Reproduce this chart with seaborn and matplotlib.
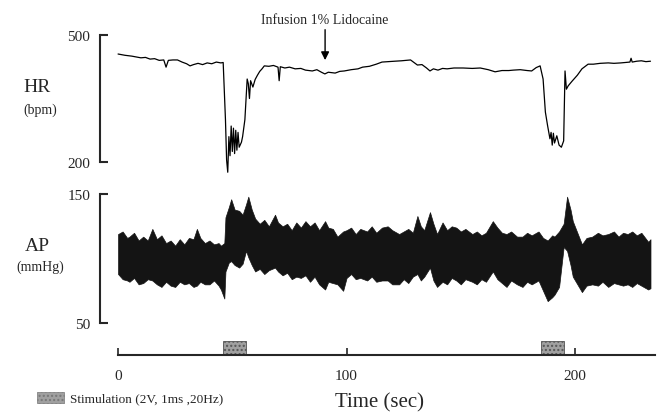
import seaborn as sns
import matplotlib.pyplot as plt
from matplotlib.patches import Rectangle

# heart rate trace (sec, bpm)
hr_t = [0, 3, 6, 8, 10, 12, 14, 16, 18, 20, 21, 22, 24, 26, 28, 30, 31.5, 33, 35, 37,
        39, 41, 43, 45, 46, 47, 47.5, 48, 48.5, 49, 49.5, 50, 50.5, 51, 51.5, 52, 52.5,
        53, 54, 54.5, 55.5, 56.5, 57, 57.5, 58, 59, 60, 61, 62, 63, 64, 66, 68, 70, 70.5,
        71, 73, 75, 77.5, 80, 82, 85, 87, 89, 90.5, 92, 95, 97, 99, 102, 105, 107, 110,
        113, 115.5, 118, 121, 124, 128, 129, 131, 133, 135, 136.5, 138, 140, 142, 144,
        147, 151, 155, 158.5, 162, 165, 168, 171, 173, 176, 179, 181, 183, 184.7, 186,
        187, 188, 189, 189.5, 190, 190.5, 191, 192, 193, 194, 195, 195.6, 196.2, 197,
        198.7, 201, 203, 205.7, 208, 211, 214.5, 217, 220, 224, 224.5, 225, 227, 229,
        231, 233]
hr_v = [455, 452, 450, 448, 446, 447, 443, 444, 440, 441, 424, 440, 441, 441, 436, 432,
        427, 430, 433, 430, 434, 432, 436, 434, 435, 300, 205, 176, 260, 215, 285, 225,
        280, 220, 275, 228, 270, 235, 247, 260, 300, 396, 385, 350, 392, 377, 395, 405,
        414, 420, 427, 426, 428, 424, 392, 425, 422, 424, 420, 421, 417, 415, 418, 412,
        408, 412, 410, 414, 415, 418, 420, 424, 426, 431, 436, 437, 438, 439, 441, 437,
        429, 430, 422, 415, 420, 417, 421, 420, 422, 422, 421, 422, 418, 413, 416, 416,
        417, 418, 416, 415, 423, 427, 396, 318, 285, 255, 270, 240, 268, 245, 262, 240,
        235, 250, 415, 372, 380, 391, 405, 420, 431, 431, 433, 434, 433, 434, 436, 445,
        436, 438, 439, 437, 438]

# arterial pressure envelope (sec, upper / lower mmHg)
ap_t = [0, 2, 4, 5, 7, 9, 11, 13, 15, 17, 19, 21, 23, 25, 27, 29, 31, 33, 34.5, 36, 38,
        40, 42, 44, 45, 46.5, 47, 48.5, 49.5, 51, 53, 54.5, 56, 57, 58.5, 60, 62, 64, 66,
        68.7, 70, 72, 74, 76, 78, 80, 82, 84, 86, 88, 90.6, 92, 94, 96, 98.5, 100, 102,
        104, 106, 109, 111, 113, 115.5, 118, 120, 123, 125, 127, 129, 131, 132.5, 134,
        136.5, 138, 139.6, 142, 144, 146, 148, 150, 152, 155, 157, 159, 161, 164, 166,
        168, 170, 172, 174.6, 177, 179, 181, 184, 186, 188, 190, 191, 193, 195, 196.5,
        198, 199, 201, 203, 205, 207.5, 210, 212, 214.5, 217, 219, 221, 223, 225, 227,
        229, 232, 233]
ap_top = [119, 121, 116, 117, 120, 114, 117, 114, 123, 115, 118, 112, 114, 110, 115, 111,
          116, 115, 123, 116, 112, 114, 111, 112, 110, 112, 132, 140, 146, 138, 137, 134,
          142, 148, 138, 131, 127, 130, 125, 134, 128, 125, 127, 122, 128, 124, 129, 125,
          128, 122, 129, 124, 123, 117, 121, 122, 124, 119, 123, 121, 125, 120, 124, 125,
          122, 119, 121, 123, 120, 133, 125, 122, 136, 127, 119, 128, 122, 125, 124, 121,
          123, 119, 121, 118, 120, 129, 124, 120, 119, 121, 117, 117, 120, 118, 121, 116,
          114, 118, 117, 121, 127, 148, 138, 129, 120, 111, 116, 117, 120, 118, 119, 121,
          117, 120, 119, 121, 118, 120, 113, 115]
ap_bot = [88, 84, 83, 82, 85, 80, 81, 84, 83, 80, 78, 82, 79, 78, 82, 80, 81, 78, 79, 82,
          80, 80, 83, 79, 76, 69, 90, 97, 98, 95, 93, 96, 106, 101, 95, 90, 92, 88, 91, 93,
          90, 87, 89, 84, 86, 85, 87, 82, 86, 80, 76, 82, 81, 80, 75, 85, 88, 84, 85, 83,
          86, 82, 83, 83, 80, 80, 84, 81, 86, 88, 83, 86, 93, 83, 78, 82, 80, 85, 83, 80,
          84, 82, 80, 84, 82, 90, 84, 81, 78, 83, 80, 78, 82, 80, 83, 75, 67, 70, 72, 78,
          109, 106, 95, 86, 80, 74, 79, 80, 79, 82, 78, 81, 80, 79, 80, 78, 81, 79, 76, 77]

stim_start = [46, 185]
stim_end = [56, 195]
time_ticks = [0, 100, 200]

sns.set_style("white")
plt.rcParams['font.family'] = ['Liberation Serif', 'DejaVu Serif']

fig = plt.figure(figsize=(6.61, 4.14), dpi=100)
xlim = (-7.9, 237.6)

ax_hr = fig.add_axes([0.1513, 0.5652, 0.8487, 0.3623])
ax_ap = fig.add_axes([0.1513, 0.1908, 0.8487, 0.3623])
ax_tm = fig.add_axes([0.1513, 0.1401, 0.8487, 0.0628])
for ax in (ax_hr, ax_ap, ax_tm):
    ax.set_facecolor('none')
    ax.set_xlim(*xlim)
    for s in ax.spines.values():
        s.set_visible(False)

# HR panel
sns.lineplot(x=hr_t, y=hr_v, ax=ax_hr, color='black', lw=0.9, estimator=None)
ax_hr.set_ylim(160, 514)
ax_hr.spines['left'].set_visible(True)
ax_hr.spines['left'].set_bounds(200, 500)
ax_hr.spines['left'].set_linewidth(1.5)
ax_hr.set_yticks([200, 500])
ax_hr.set_xticks([])
ax_hr.tick_params(axis='y', left=True, direction='in', length=6, width=1.5, pad=7,
                  labelsize=11)
ax_hr.annotate('', xy=(90.6, 434), xytext=(90.6, 519), annotation_clip=False,
               arrowprops=dict(arrowstyle='-|>', color='black', lw=1, mutation_scale=12))
ax_hr.text(90.6, 536, 'Infusion 1% Lidocaine', ha='center', va='center', fontsize=10)

# AP panel
ax_ap.fill_between(ap_t, ap_bot, ap_top, color='#141414', lw=0.5)
ax_ap.set_ylim(41.5, 157.8)
ax_ap.spines['left'].set_visible(True)
ax_ap.spines['left'].set_bounds(50, 150)
ax_ap.spines['left'].set_linewidth(1.5)
ax_ap.set_yticks([50, 150])
ax_ap.set_xticks([])
ax_ap.tick_params(axis='y', left=True, direction='in', length=6, width=1.5, pad=7,
                  labelsize=11)

# time axis with stimulation periods
widths = [e - s for s, e in zip(stim_start, stim_end)]
ax_tm.bar(stim_start, [0.55] * len(stim_start), width=widths, align='edge',
          color='#a0a0a0', edgecolor='#555555', hatch='....', lw=0.6)
ax_tm.set_ylim(0, 1)
ax_tm.set_yticks([])
ax_tm.spines['bottom'].set_visible(True)
ax_tm.spines['bottom'].set_bounds(0, 235)
ax_tm.spines['bottom'].set_linewidth(1.5)
ax_tm.set_xticks(time_ticks)
ax_tm.tick_params(axis='x', bottom=True, direction='in', length=5, width=1.2, pad=10,
                  labelsize=11)
ax_tm.set_xlabel('Time (sec)', fontsize=15, labelpad=2)
ax_tm.xaxis.set_label_coords((379 - 100) / 561, -1.45)

fig.text(37 / 661, 1 - 88 / 414, 'HR', ha='center', va='center', fontsize=14)
fig.text(40 / 661, 1 - 110 / 414, '(bpm)', ha='center', va='center', fontsize=10)
fig.text(37 / 661, 1 - 247 / 414, 'AP', ha='center', va='center', fontsize=14)
fig.text(40 / 661, 1 - 267 / 414, '(mmHg)', ha='center', va='center', fontsize=10)

fig.patches.append(Rectangle((37 / 661, 1 - 404 / 414), 27 / 661, 11 / 414,
                             transform=fig.transFigure, facecolor='#a0a0a0',
                             edgecolor='#777777', hatch='....', lw=0.5))
fig.text(70 / 661, 1 - 399 / 414, 'Stimulation (2V, 1ms ,20Hz)', ha='left',
         va='center', fontsize=9.5)

fig.savefig('out.png', dpi=100)
